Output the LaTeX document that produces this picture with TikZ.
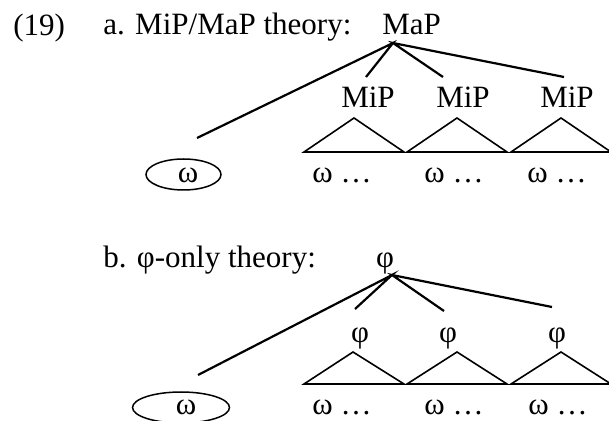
\documentclass[tikz,border=0pt]{standalone}
\usepackage{fontspec}
\setmainfont{Liberation Serif}
\usetikzlibrary{shapes.geometric}
\tikzset{
lbl/.style={inner sep=0pt,anchor=base west,font=\fontsize{15.5}{18}\selectfont},
cat/.style={inner sep=0pt,anchor=base,font=\fontsize{15.5}{18}\selectfont},
branch/.style={line width=1.1pt},
tri/.style={line width=0.8pt},
oval/.style={draw,ellipse,line width=0.75pt,inner sep=0pt,minimum height=15.5pt}
}
\begin{document}
\begin{tikzpicture}[x=0.5pt,y=-0.5pt]
\useasboundingbox (0,0) rectangle (609,421);

% (19a) MiP/MaP
\node[lbl] (exnum) at (13,36) {(19)};
\node[lbl] (atitle) at (103,35) {a. MiP/MaP theory:};
\node[lbl] (map) at (382,35) {MaP};
\coordinate (atop) at (393,43);
\coordinate (aw) at (197,138);
\coordinate (a1) at (366,77);
\coordinate (a2) at (443,77);
\coordinate (a3) at (564,77);
\draw[branch] (aw) -- (atop) -- (a1);
\draw[branch] (a2) -- (atop) -- (a3);

\node[cat] (mip1) at (368,107.5) {MiP};
\node[cat] (mip2) at (463,107.5) {MiP};
\node[cat] (mip3) at (567,107.5) {MiP};

\draw[tri] (354,118) -- (304,152) -- (404,152) -- cycle;
\draw[tri] (457,118) -- (407,152) -- (507,152) -- cycle;
\draw[tri] (561,118) -- (511,152) -- (611,152) -- cycle;

\node[oval,minimum width=37.5pt] (aoval) at (183.5,174.5) {};
\node[cat] (aomega) at (188,183) {ω};
\node[lbl] (aw1) at (312,183) {ω …};
\node[lbl] (aw2) at (424,183) {ω …};
\node[lbl] (aw3) at (527,183) {ω …};

% (19b) phi only
\node[lbl] (btitle) at (103,268) {b. φ-only theory:};
\node[cat] (phi) at (385,268) {φ};
\coordinate (btop) at (392,275);
\coordinate (bw) at (198,375);
\coordinate (b1) at (355,309);
\coordinate (b2) at (444,311);
\coordinate (b3) at (552,307);
\draw[branch] (bw) -- (btop) -- (b1);
\draw[branch] (b2) -- (btop) -- (b3);

\node[cat] (phi1) at (360,343) {φ};
\node[cat] (phi2) at (448,343) {φ};
\node[cat] (phi3) at (557,343) {φ};

\draw[tri] (353,352) -- (304,384) -- (404,384) -- cycle;
\draw[tri] (457,352) -- (407,384) -- (507,384) -- cycle;
\draw[tri] (561,352) -- (511,384) -- (611,384) -- cycle;

\node[oval,minimum width=48.5pt] (boval) at (181,407.5) {};
\node[cat] (bomega) at (186,415) {ω};
\node[lbl] (bw1) at (312,415) {ω …};
\node[lbl] (bw2) at (424,415) {ω …};
\node[lbl] (bw3) at (528,415) {ω …};
\end{tikzpicture}
\end{document}
